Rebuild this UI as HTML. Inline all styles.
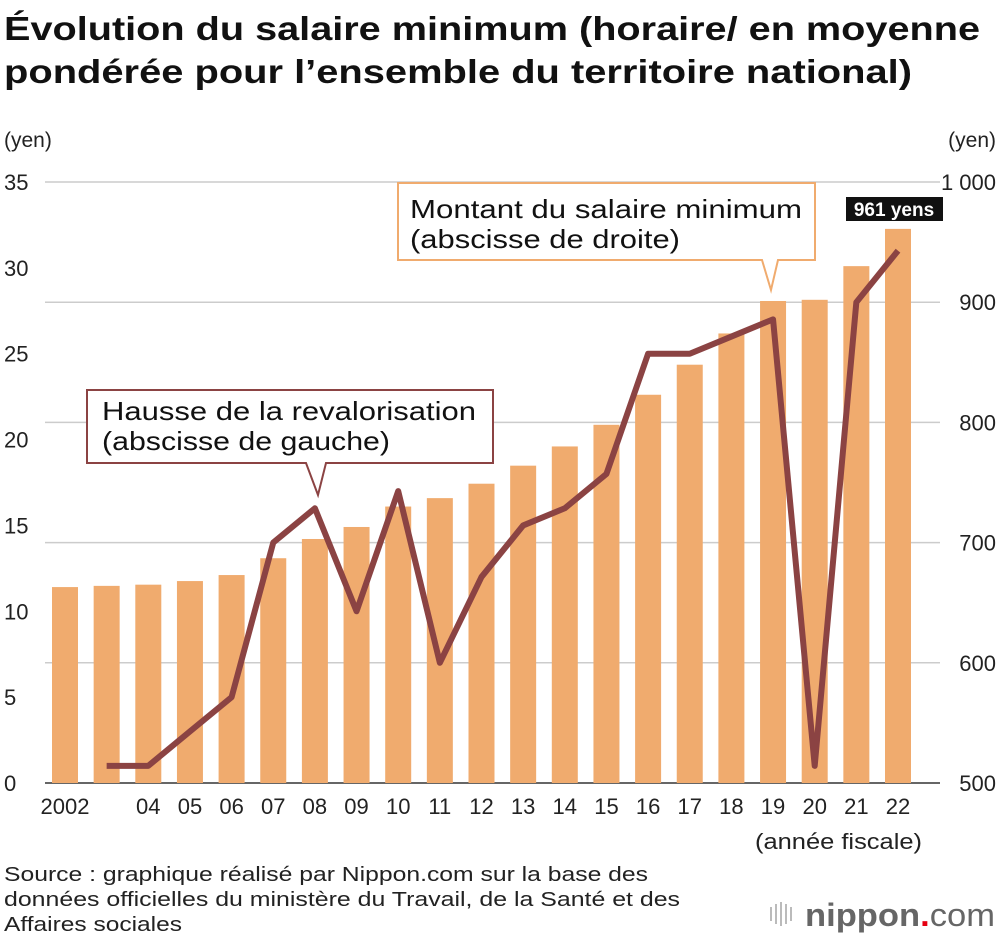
<!DOCTYPE html>
<html><head><meta charset="utf-8">
<style>
body{margin:0;background:#fff;width:1000px;height:942px;overflow:hidden;font-family:"Liberation Sans",Arial,sans-serif;}
svg text{font-family:"Liberation Sans",Arial,sans-serif;}
</style></head>
<body>
<svg id="chart" width="1000" height="942" viewBox="0 0 1000 942">
<text x="4" y="40" font-size="33" font-weight="bold" fill="#111" textLength="976" lengthAdjust="spacingAndGlyphs">Évolution du salaire minimum (horaire/ en moyenne</text>
<text x="4" y="83" font-size="33" font-weight="bold" fill="#111" textLength="908" lengthAdjust="spacingAndGlyphs">pondérée pour l’ensemble du territoire national)</text>
<text x="4" y="147" font-size="21" fill="#222">(yen)</text>
<text x="996" y="147" font-size="21" fill="#222" text-anchor="end">(yen)</text>
<g id="grid"></g><g id="bars"></g><g id="ticks"></g><g id="line"></g><g id="callouts"></g>
<text x="4" y="881" font-size="20" fill="#222" textLength="644" lengthAdjust="spacingAndGlyphs">Source : graphique réalisé par Nippon.com sur la base des</text>
<text x="4" y="906" font-size="20" fill="#222" textLength="676" lengthAdjust="spacingAndGlyphs">données officielles du ministère du Travail, de la Santé et des</text>
<text x="4" y="931" font-size="20" fill="#222" textLength="178" lengthAdjust="spacingAndGlyphs">Affaires sociales</text>
<g>
<g fill="#bbb"><rect x="770" y="907" width="2" height="14"/><rect x="775" y="904" width="2" height="20"/><rect x="780" y="902" width="2" height="24"/><rect x="785" y="904" width="2" height="20"/><rect x="790" y="907" width="2" height="14"/></g>
<text x="805" y="926" font-size="32" fill="#666" font-weight="bold" textLength="190" lengthAdjust="spacingAndGlyphs">nippon<tspan fill="#e60012">.</tspan><tspan font-weight="normal">com</tspan></text>
</g>
</svg>
<script>
const years=["2002","03","04","05","06","07","08","09","10","11","12","13","14","15","16","17","18","19","20","21","22"];
const yearLabels=["2002","","04","05","06","07","08","09","10","11","12","13","14","15","16","17","18","19","20","21","22"];
const wages=[663,664,665,668,673,687,703,713,730,737,749,764,780,798,823,848,874,901,902,930,961];
const raises=[null,1,1,3,5,14,16,10,17,7,12,15,16,18,25,25,26,27,1,28,31];
const leftTicks=[0,5,10,15,20,25,30,35];
const rightTicks=[500,600,700,800,900,1000];
const rightTickLabels=["500","600","700","800","900","1 000"];
const NS="http://www.w3.org/2000/svg";
const x0=65,dx=41.65,yBase=783,yTop=182;
const xs=i=>x0+i*dx;
const yL=v=>yBase-(v/35)*(yBase-yTop);
const yR=v=>yBase-((v-500)/500)*(yBase-yTop);
function mk(tag,attrs,parent,txt){const e=document.createElementNS(NS,tag);for(const k in attrs)e.setAttribute(k,attrs[k]);if(txt!==undefined)e.textContent=txt;document.getElementById(parent).appendChild(e);return e;}
rightTicks.forEach((v,i)=>{
  if(v>500){const g=mk('line',{x1:45,x2:940,y1:yR(v),y2:yR(v),stroke:'#ccc','stroke-width':1.5},'grid');
  
  }
  const t=mk('text',{x:996,y:yR(v)+8,'font-size':22,'text-anchor':'end',fill:'#222'},'ticks',rightTickLabels[i]);
  
  
});
leftTicks.forEach(v=>{
  const t=mk('text',{x:4,y:yL(v)+8,'font-size':22,fill:'#222'},'ticks',String(v));
  
  
});
wages.forEach((w,i)=>{
  const b=mk('rect',{x:xs(i)-13,y:yR(w),width:26,height:yBase-yR(w),fill:'#f0ab6e'},'bars');
  
  
  if(yearLabels[i]){const t=mk('text',{x:xs(i),y:814,'font-size':22,'text-anchor':'middle',fill:'#222'},'ticks',yearLabels[i]);
  
  }
});
const base=mk('line',{x1:45,x2:940,y1:yBase,y2:yBase,stroke:'#333','stroke-width':1.5},'grid');


const xt=mk('text',{x:755,y:849,'font-size':22,fill:'#222',textLength:167,lengthAdjust:'spacingAndGlyphs'},'ticks','(année fiscale)');


let pts=[];raises.forEach((r,i)=>{if(r!==null)pts.push(xs(i)+','+yL(r));});
const pl=mk('polyline',{points:pts.join(' '),fill:'none',stroke:'#8b4343','stroke-width':6,'stroke-linejoin':'round'},'line');


const c1=mk('path',{d:'M87,390 H493 V463 H326 L318,495 L306,463 H87 Z',fill:'#fff',stroke:'#8b4343','stroke-width':2},'callouts');


mk('text',{x:102,y:420,'font-size':26,fill:'#111',textLength:374,lengthAdjust:'spacingAndGlyphs'},'callouts','Hausse de la revalorisation');
mk('text',{x:102,y:450,'font-size':26,fill:'#111',textLength:288,lengthAdjust:'spacingAndGlyphs'},'callouts','(abscisse de gauche)');
const c2=mk('path',{d:'M398,183 H815 V260 H778 L771,290 L762,260 H398 Z',fill:'#fff',stroke:'#f0ab6e','stroke-width':2},'callouts');


mk('text',{x:410,y:218,'font-size':26,fill:'#111',textLength:392,lengthAdjust:'spacingAndGlyphs'},'callouts','Montant du salaire minimum');
mk('text',{x:410,y:248,'font-size':26,fill:'#111',textLength:270,lengthAdjust:'spacingAndGlyphs'},'callouts','(abscisse de droite)');
const lb=mk('rect',{x:846,y:197,width:97,height:24,fill:'#111'},'callouts');


mk('text',{x:894,y:216,'font-size':19,'font-weight':'bold','text-anchor':'middle',fill:'#fff'},'callouts',wages[20]+' yens');
</script>
</body></html>
